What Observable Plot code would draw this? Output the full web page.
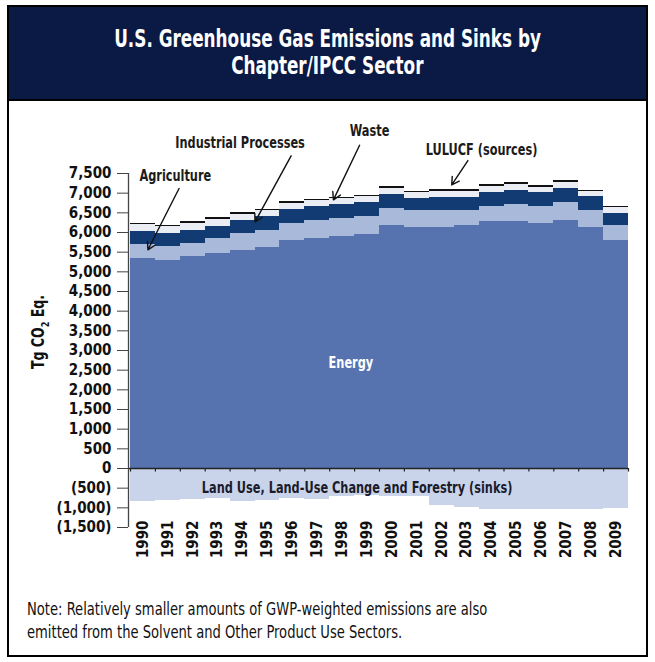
<!DOCTYPE html>
<html><head><meta charset="utf-8">
<script src="https://cdn.jsdelivr.net/npm/d3@7"></script>
<script src="https://cdn.jsdelivr.net/npm/@observablehq/plot@0.6"></script>
<style>
html,body{margin:0;padding:0;background:#fff;}
body{width:655px;height:662px;position:relative;overflow:hidden;font-family:"Liberation Sans Narrow","Arial Narrow","DejaVu Sans Condensed","Roboto Condensed",sans-serif;}
#frame{position:absolute;left:7px;top:5px;width:637px;height:648px;border:2px solid #000;}
#title{position:absolute;left:0;top:0;width:637px;height:92px;background:#0b1a45;border-bottom:2px solid #000;color:#fff;font-weight:bold;font-size:24px;line-height:27px;text-align:center;display:flex;flex-direction:column;align-items:center;justify-content:center;}
#title span{display:block;white-space:nowrap;transform:scaleX(0.78);}
#note{position:absolute;left:27px;top:597px;font-size:18px;line-height:23px;color:#111;}
#note span{display:block;white-space:nowrap;transform:scaleX(0.81);transform-origin:left center;}
#ylab{position:absolute;left:40px;top:332px;transform:translate(-50%,-50%) rotate(-90deg) scaleX(0.82);font-weight:bold;font-size:17px;color:#111;white-space:nowrap;}
#ylab sub{font-size:11px;}
#chart{position:absolute;left:0;top:110px;}
</style></head>
<body>
<div id="frame"><div id="title"><span>U.S. Greenhouse Gas Emissions and Sinks by</span><span>Chapter/IPCC Sector</span></div></div>
<div id="chart"></div>
<div id="ylab">Tg CO<sub>2</sub> Eq.</div>
<div id="note"><span>Note: Relatively smaller amounts of GWP-weighted emissions are also</span><span>emitted from the Solvent and Other Product Use Sectors.</span></div>
<script>
const years = [1990,1991,1992,1993,1994,1995,1996,1997,1998,1999,2000,2001,2002,2003,2004,2005,2006,2007,2008,2009];
const energy = [5330,5285,5390,5470,5540,5625,5790,5850,5890,5960,6190,6130,6130,6190,6290,6290,6230,6300,6130,5785];
const agriculture = [375,370,340,380,440,420,440,450,455,440,420,420,420,380,380,420,440,455,440,405];
const industrial = [315,320,310,300,320,355,355,355,370,355,365,315,340,320,335,365,335,365,335,295];
const waste = [175,185,185,180,165,150,160,150,140,150,150,140,150,150,160,145,145,140,130,140];
const lulucfSources = [30,30,45,45,45,45,45,45,45,45,50,45,45,45,45,45,45,50,45,45];
const sinks = [-850,-825,-790,-765,-850,-825,-765,-790,-700,-690,-720,-720,-950,-1000,-1030,-1050,-1050,-1045,-1035,-1010];
const sectors = ["Energy","Agriculture","Industrial Processes","Waste","LULUCF (sources)","Land Use, Land-Use Change and Forestry (sinks)"];
const sectorColors = ["#5673b0","#a8b9d9","#123a73","#eaedf4","#111111","#c9d4ea"];
const yTicks = [-1500,-1000,-500,0,500,1000,1500,2000,2500,3000,3500,4000,4500,5000,5500,6000,6500,7000,7500];

const stackSeries = [energy, agriculture, industrial, waste, lulucfSources];
const rows = [];
years.forEach((yr, i) => {
  let base = 0;
  stackSeries.forEach((s, k) => {
    rows.push({year: yr, sector: sectors[k], y1: base, y2: base + s[i]});
    base += s[i];
  });
  rows.push({year: yr, sector: sectors[5], y1: 0, y2: sinks[i]});
});
const boundaries = years.map(y => y - 0.5).concat([years[years.length - 1] + 0.5]);
const x0 = years[0] - 0.5, xN = years[years.length - 1] + 0.5;

const labels = [
  {text: "Agriculture", x: 1991.3, y: 7430},
  {text: "Industrial Processes", x: 1993.9, y: 8260},
  {text: "Waste", x: 1999.1, y: 8570},
  {text: "LULUCF (sources)", x: 2003.6, y: 8080}
];
const arrows = [
  {x1: 1991.45, y1: 7120, x2: 1990.2, y2: 5560},
  {x1: 1995.95, y1: 7950, x2: 1994.5, y2: 6270},
  {x1: 1998.7, y1: 8220, x2: 1997.65, y2: 6830},
  {x1: 2003.05, y1: 7830, x2: 2002.4, y2: 7210}
];

const fmt = d3.format(",");
const plot = Plot.plot({
  width: 655, height: 460,
  marginLeft: 130, marginRight: 27, marginTop: 63, marginBottom: 43,
  style: {background: "transparent", fontFamily: "'Liberation Sans Narrow','Arial Narrow','DejaVu Sans Condensed',sans-serif", fontSize: "15px", fontWeight: "bold", color: "#111"},
  x: {type: "linear", domain: [x0, xN]},
  y: {domain: [-1500, 7500]},
  color: {domain: sectors, range: sectorColors},
  marks: [
    Plot.rect(rows, {x1: d => d.year - 0.5, x2: d => d.year + 0.5, y1: "y1", y2: "y2", fill: "sector", shapeRendering: "crispEdges"}),
    Plot.ruleY([0], {x1: x0, x2: xN, stroke: "#222", strokeWidth: 1.5, insetLeft: -2}),
    Plot.ruleX(boundaries, {y1: 0, y2: -90, stroke: "#222", strokeWidth: 1.2}),
    Plot.ruleX([x0], {y1: -1500, y2: 7500, dx: -2, stroke: "#444", strokeWidth: 1.3}),
    Plot.axisY({ticks: yTicks, tickFormat: d => d < 0 ? `(${fmt(-d)})` : fmt(d), tickSize: 11, tickPadding: 6, dx: -2, stroke: "#444", label: null, fontSize: 15}),
    Plot.axisX({ticks: years, tickFormat: d => String(d), tickRotate: -90, tickSize: 0, tickPadding: -7, label: null, fontSize: 15}),
    Plot.text(["Energy"], {x: 1998.35, y: 2680, text: d => d, fill: "white", fontSize: 15}),
    Plot.text([sectors[5]], {x: 1998.6, y: -500, text: d => d, fill: "#1b1b2b", fontSize: 15}),
    Plot.text(labels, {x: "x", y: "y", text: "text", fill: "#1b1b1b", fontSize: 15}),
    Plot.arrow(arrows, {x1: "x1", y1: "y1", x2: "x2", y2: "y2", stroke: "#111", strokeWidth: 1.4, headLength: 9})
  ]
});
document.getElementById("chart").appendChild(plot);
plot.querySelectorAll('g[aria-label="text"] text').forEach(el => {
  const w = el.getComputedTextLength();
  el.setAttribute("textLength", (w * 0.84).toFixed(1));
  el.setAttribute("lengthAdjust", "spacingAndGlyphs");
});
</script>
</body></html>
